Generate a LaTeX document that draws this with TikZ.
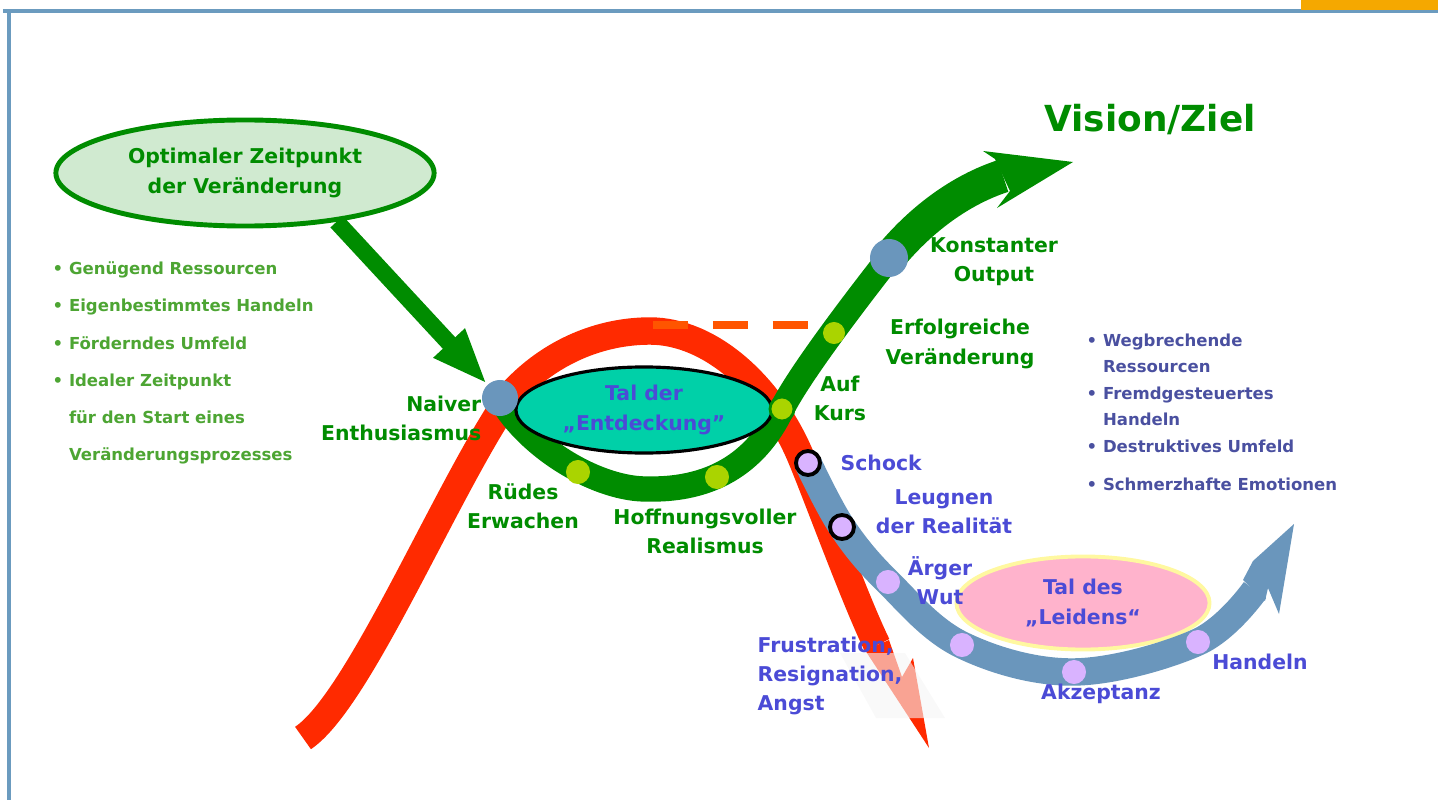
\documentclass[tikz,border=0pt]{standalone}
\usepackage{fontspec}
\setmainfont{DejaVu Sans}
\usetikzlibrary{shapes.geometric,arrows.meta}
\definecolor{gruen}{HTML}{008C00}
\definecolor{hellgruen}{HTML}{D0EAD0}
\definecolor{listgruen}{HTML}{4DA533}
\definecolor{rot}{HTML}{FF2A00}
\definecolor{strich}{HTML}{FF5500}
\definecolor{graublau}{HTML}{6A96BC}
\definecolor{gelbgruen}{HTML}{AAD400}
\definecolor{lila}{HTML}{D9B3FF}
\definecolor{tuerkis}{HTML}{00D0A8}
\definecolor{rosa}{HTML}{FFB3CC}
\definecolor{hellgelb}{HTML}{FFF8A0}
\definecolor{textblau}{HTML}{4B4BD6}
\definecolor{listblau}{HTML}{4A50A0}
\definecolor{rahmen}{HTML}{6B9BBF}
\definecolor{balken}{HTML}{F5A800}
\begin{document}
\begin{tikzpicture}[x=0.01cm,y=-0.01cm,line join=round,
	font=\bfseries\fontsize{5.8}{8.3}\selectfont,
	band/.style={line width=\bw,line cap=butt},
	lbl/.style={align=center,inner sep=0pt},
	liste/.style={font=\bfseries\fontsize{4.7}{10.6}\selectfont,align=left,inner sep=0pt,anchor=north west},
	punkt/.style={circle,inner sep=0pt,minimum size=0.24cm,fill=#1},
	tal/.style={ellipse,lbl,text=textblau}]
	\def\bw{7.8pt}
	\useasboundingbox (0,0) rectangle (1438,800);
	\draw[rahmen,line width=1pt] (3,11) -- (1438,11) (9,11) -- (9,800); % Rahmen
	\fill[balken] (1301,0) rectangle (1438,10);
	\node[tal,draw=hellgelb,line width=1.1pt,fill=rosa,minimum width=2.53cm,minimum height=0.93cm] (leid) at (1083,603) {Tal des\\„Leidens“};
	\draw[band,rot] (303,738) .. controls (360,700) and (450,480) .. (513,392)
		.. controls (550,352) and (600,331) .. (650,331)
		.. controls (710,331) and (770,385) .. (800,455)
		.. controls (815,490) and (855,600) .. (877,645); % rote Kurve
	\fill[rot] (865,650) -- (889,640) -- (902,677) -- (913,658) -- (929,748) -- cycle;
	\fill[gray!8,opacity=0.6] (840,653) -- (905,653) -- (945,718) -- (876,718) -- cycle;
	\draw[band,gruen,line width=7.2pt] (500,398) .. controls (530,450) and (600,490) .. (648,489)
		.. controls (700,490) and (752,472) .. (782,409)
		.. controls (800,373) and (860,295) .. (889,258); % Tal und Anstieg
	\draw[band,gruen,line width=9.5pt] (889,258) .. controls (920,220) and (960,190) .. (1003,176);
	\fill[gruen] (995,159) -- (983,151) -- (1073,162) -- (997,208) -- (1010,191) -- cycle;
	\draw[band,graublau] plot[smooth,tension=0.6] coordinates {(808,463) (842,527) (888,582) (962,645) (1074,672) (1198,642) (1255,590)}; % Tal des Leidens
	\fill[graublau] (1243,580) -- (1253,561) -- (1294,524) -- (1279,614) -- (1268,588) -- (1265,601) -- cycle;
	\draw[strich,line width=2.3pt,dash pattern=on 10pt off 7pt] (653,325) -- (808,325);
	\node[ellipse,lbl,draw=gruen,line width=1.4pt,fill=hellgruen,minimum width=3.78cm,minimum height=1.06cm,text=gruen] (opt) at (245,173) {Optimaler Zeitpunkt\\der Veränderung};
	\node[tal,draw=black,line width=0.9pt,fill=tuerkis,minimum width=2.56cm,minimum height=0.86cm] (entd) at (644,410) {Tal der\\„Entdeckung”};
	\node[punkt=graublau,minimum size=0.36cm] (naiv) at (500,398) {};
	\node[punkt=graublau,minimum size=0.38cm] (konst) at (889,258) {};
	\node[punkt=gelbgruen] (ruede) at (578,472) {};
	\node[punkt=gelbgruen] (hoff) at (717,477) {};
	\node[punkt=gelbgruen,draw=gruen,line width=0.8pt] (kurs) at (782,409) {};
	\node[punkt=gelbgruen,minimum size=0.22cm] (erfolg) at (834,333) {};
	\node[punkt=lila,draw=black,line width=1.1pt] (schock) at (808,463) {};
	\node[punkt=lila,draw=black,line width=1.1pt] (leug) at (842,527) {};
	\node[punkt=lila] (wut) at (888,582) {};
	\node[punkt=lila] (tief) at (962,645) {};
	\node[punkt=lila] (akz) at (1074,672) {};
	\node[punkt=lila] (hand) at (1198,642) {};
	\draw[gruen,line width=4.8pt,-{Triangle[length=16pt,width=11pt]}] (opt.-28) -- (naiv); % Pfeil zum Start
	\node[inner sep=0pt,text=gruen,font=\bfseries\fontsize{10.2}{12}\selectfont] (ziel) at (1150,120) {Vision/Ziel};
	\node[liste,text=listgruen] (vorteile) at (52,261) {• Genügend Ressourcen\\• Eigenbestimmtes Handeln\\• Förderndes Umfeld\\• Idealer Zeitpunkt\\\phantom{• }für den Start eines\\\phantom{• }Veränderungsprozesses};
	\node[liste,text=listblau,font=\bfseries\fontsize{4.7}{7.55}\selectfont] (nachteile) at (1086,333) {• Wegbrechende\\\phantom{• }Ressourcen\\• Fremdgesteuertes\\\phantom{• }Handeln\\• Destruktives Umfeld\\[3.2pt]• Schmerzhafte Emotionen};
	\node[lbl,text=gruen,align=right,anchor=east] (naivtxt) at (482,418) {Naiver\\Enthusiasmus};
	\node[lbl,text=gruen] (ruedetxt) at (523,506) {Rüdes\\Erwachen};
	\node[lbl,text=gruen] (hofftxt) at (705,531) {Hoffnungsvoller\\Realismus};
	\node[lbl,text=gruen] (kurstxt) at (840,398) {Auf\\Kurs};
	\node[lbl,text=gruen] (erfolgtxt) at (960,344) {Erfolgreiche\\Veränderung};
	\node[lbl,text=gruen] (konsttxt) at (994,262) {Konstanter\\Output};
	\node[lbl,text=textblau,anchor=west] (schocktxt) at (840,463) {Schock};
	\node[lbl,text=textblau] (leugtxt) at (944,512) {Leugnen\\der Realität};
	\node[lbl,text=textblau] (wuttxt) at (940,581) {Ärger\\Wut};
	\node[lbl,text=textblau,align=left,anchor=west] (frusttxt) at (757,676) {Frustration,\\Resignation,\\Angst};
	\node[lbl,text=textblau] (akztxt) at (1101,694) {Akzeptanz};
	\node[lbl,text=textblau] (handtxt) at (1260,662) {Handeln};
\end{tikzpicture}
\end{document}
